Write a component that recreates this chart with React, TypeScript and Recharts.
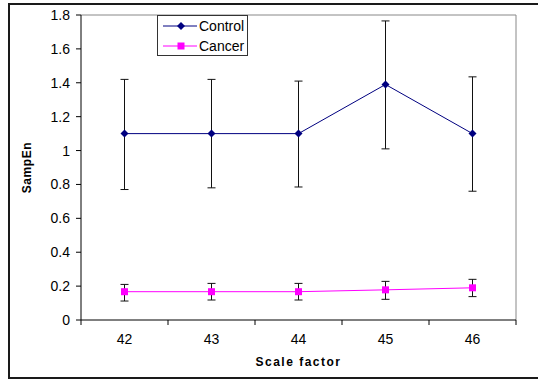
import React from 'react'
import {
  LineChart,
  Line,
  XAxis,
  YAxis,
  ErrorBar,
  Legend,
  ReferenceLine,
} from 'recharts'

const scales = [42, 43, 44, 45, 46]
const control = [1.1, 1.1, 1.1, 1.39, 1.1]
const controlErrLow = [0.33, 0.32, 0.315, 0.38, 0.34]
const controlErrHigh = [0.32, 0.32, 0.31, 0.375, 0.335]
const cancer = [0.167, 0.167, 0.167, 0.178, 0.19]
const cancerErrLow = [0.055, 0.049, 0.049, 0.056, 0.052]
const cancerErrHigh = [0.043, 0.049, 0.049, 0.05, 0.05]
const yTicks = [0, 0.2, 0.4, 0.6, 0.8, 1, 1.2, 1.4, 1.6, 1.8]
const xTicks = [41.5, 42, 42.5, 43, 43.5, 44, 44.5, 45, 45.5, 46, 46.5]

const data = scales.map((s, i) => ({
  scale: s,
  control: control[i],
  controlErr: [controlErrLow[i], controlErrHigh[i]],
  cancer: cancer[i],
  cancerErr: [cancerErrLow[i], cancerErrHigh[i]],
}))

const FONT = '"Liberation Sans", Arial, sans-serif'
const NAVY = '#000080'
const MAGENTA = '#ff00ff'

function Diamond({ cx, cy, r = 4, fill }: { cx: number; cy: number; r?: number; fill: string }) {
  return <polygon points={`${cx},${cy - r} ${cx + r},${cy} ${cx},${cy + r} ${cx - r},${cy}`} fill={fill} />
}

function Square({ cx, cy, r = 3.5, fill }: { cx: number; cy: number; r?: number; fill: string }) {
  return <rect x={cx - r} y={cy - r} width={r * 2} height={r * 2} fill={fill} />
}

// ticks at the category edges get a mark, whole numbers get a label
function XTick(props: any) {
  const { x, y, payload } = props
  const v = payload.value as number
  if (!Number.isInteger(v)) {
    return <line x1={x} y1={y} x2={x} y2={y + 5} stroke="#000" />
  }
  return (
    <text x={x} y={y + 24} textAnchor="middle" fontSize={14} fontFamily={FONT} fill="#000">
      {v}
    </text>
  )
}

function LegendBox() {
  const rows = [
    { name: 'Control', color: NAVY, shape: 'diamond' },
    { name: 'Cancer', color: MAGENTA, shape: 'square' },
  ]
  return (
    <svg width={92} height={42} style={{ display: 'block' }}>
      <rect x={0.5} y={0.5} width={90} height={40} fill="#fff" stroke="#333" />
      {rows.map((r, i) => {
        const cy = 11 + i * 20
        return (
          <g key={r.name}>
            <line x1={6} y1={cy} x2={40} y2={cy} stroke={r.color} />
            {r.shape === 'diamond' ? (
              <Diamond cx={24} cy={cy} fill={r.color} />
            ) : (
              <Square cx={24} cy={cy} fill={r.color} />
            )}
            <text x={42} y={cy + 5} fontSize={14} fontFamily={FONT} fill="#000">
              {r.name}
            </text>
          </g>
        )
      })}
    </svg>
  )
}

export default function App() {
  return (
    <div style={{ position: 'absolute', left: 0, top: 0, width: 538, height: 380, background: '#fff' }}>
      <div
        style={{
          position: 'absolute',
          left: 8,
          top: 3,
          width: 545,
          height: 376,
          border: '2px solid #1a1a1a',
          boxSizing: 'border-box',
        }}
      />
      <LineChart
        width={538}
        height={380}
        data={data}
        margin={{ top: 15, right: 22, left: 0, bottom: 10 }}
        style={{ fontFamily: FONT }}
      >
        <XAxis
          dataKey="scale"
          type="number"
          domain={[41.5, 46.5]}
          ticks={xTicks}
          interval={0}
          height={50}
          tickSize={0}
          tickMargin={0}
          stroke="#000"
          tick={<XTick />}
          label={{
            value: 'Scale factor',
            position: 'insideBottom',
            offset: 4,
            style: { fontWeight: 'bold', fontSize: 12, letterSpacing: 1.5, fill: '#000' },
          }}
        />
        <YAxis
          domain={[0, 1.8]}
          ticks={yTicks}
          interval={0}
          width={81}
          tickSize={5}
          tickMargin={6}
          stroke="#000"
          tick={{ fontSize: 14, fill: '#000', fontFamily: FONT }}
          tickFormatter={(v: number) => (Number.isInteger(v) ? String(v) : v.toFixed(1))}
          label={{
            value: 'SampEn',
            angle: -90,
            position: 'insideLeft',
            offset: 27,
            style: { textAnchor: 'middle', fontWeight: 'bold', fontSize: 12, letterSpacing: 0.6, fill: '#000' },
          }}
        />
        <ReferenceLine y={1.8} stroke="#888" />
        <ReferenceLine x={46.5} stroke="#888" />
        <Legend
          layout="vertical"
          align="center"
          verticalAlign="middle"
          wrapperStyle={{ left: 157, top: 15, width: 92, height: 42 }}
          content={() => <LegendBox />}
        />
        <Line
          dataKey="control"
          stroke={NAVY}
          strokeWidth={1}
          isAnimationActive={false}
          dot={(p: any) => <Diamond key={`c-${p.index}`} cx={p.cx} cy={p.cy} fill={NAVY} />}
          activeDot={false}
        >
          <ErrorBar dataKey="controlErr" direction="y" width={4} stroke="#111" strokeWidth={1} />
        </Line>
        <Line
          dataKey="cancer"
          stroke={MAGENTA}
          strokeWidth={1}
          isAnimationActive={false}
          dot={(p: any) => <Square key={`k-${p.index}`} cx={p.cx} cy={p.cy} fill={MAGENTA} />}
          activeDot={false}
        >
          <ErrorBar dataKey="cancerErr" direction="y" width={4} stroke="#111" strokeWidth={1} />
        </Line>
      </LineChart>
    </div>
  )
}
